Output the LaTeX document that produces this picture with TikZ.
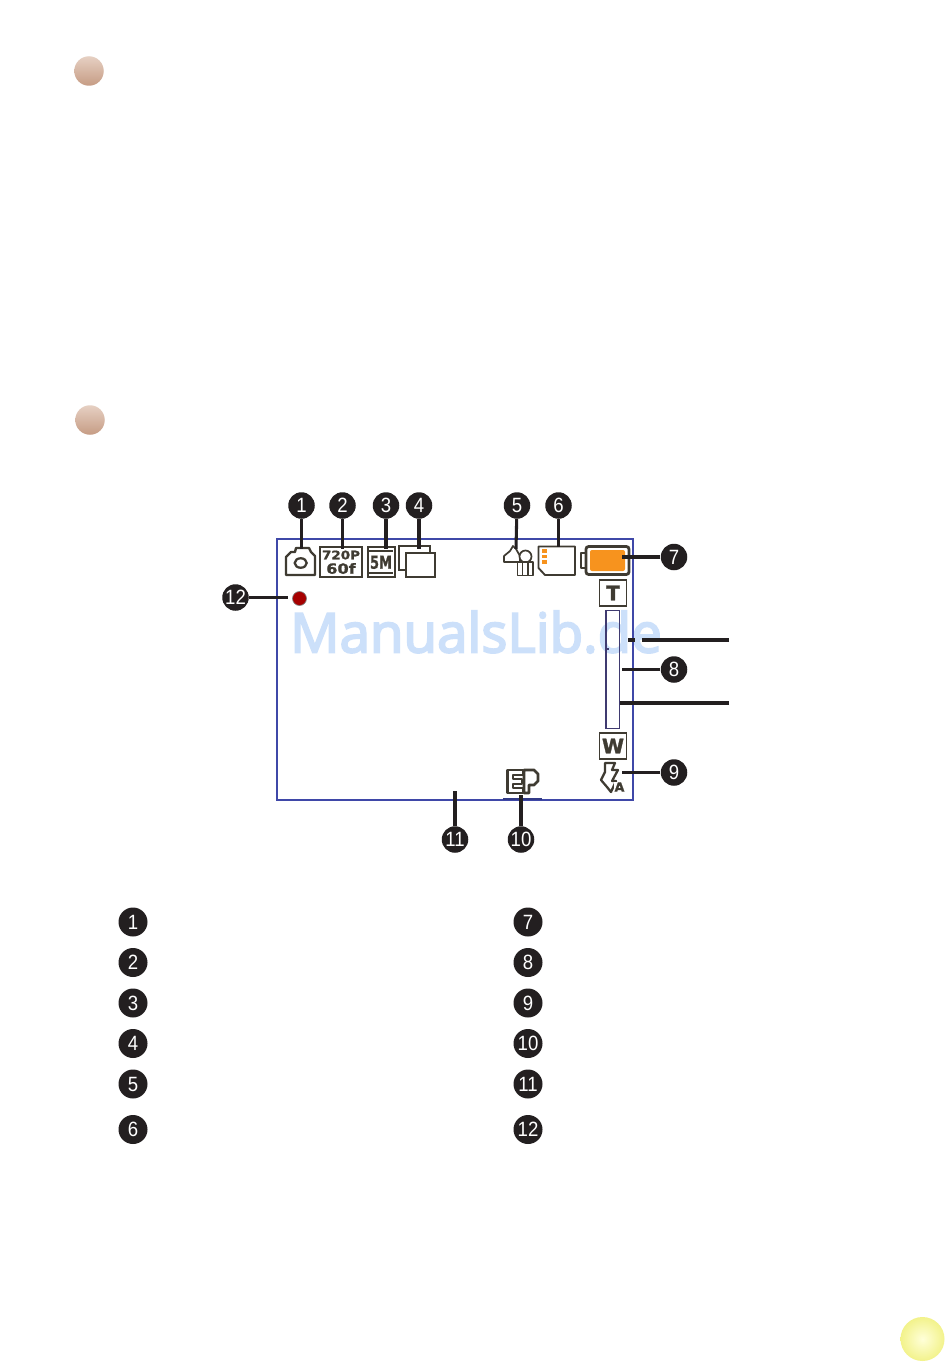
\documentclass[tikz,border=0pt]{standalone}
\usepackage{fontspec}
\setmainfont{Liberation Sans}
\newfontfamily\wmfont[FakeBold=3.5]{Open Sans}
\newfontfamily\iconfont{DejaVu Sans}
\newfontfamily\widefont[FakeStretch=1.15,FakeBold=1.2]{DejaVu Sans Bold}
\newfontfamily\narrowfont[FakeStretch=0.72,FakeBold=0.6]{DejaVu Sans Bold}
\newfontfamily\numfont[FakeStretch=0.9]{Liberation Sans}
\newfontfamily\heavyfont[FakeBold=1.5]{DejaVu Sans Bold}
\usetikzlibrary{shapes.geometric}
\definecolor{ink}{HTML}{231F20}
\definecolor{icon}{HTML}{3F3B32}
\definecolor{frameblue}{HTML}{3F48A8}
\definecolor{barpurple}{HTML}{3F3A70}
\definecolor{orangefill}{HTML}{F7931E}
\definecolor{wm}{HTML}{CCE0FA}
\definecolor{pinkA}{RGB}{230,208,195}
\definecolor{pinkB}{RGB}{226,200,184}
\definecolor{pinkC}{RGB}{198,156,132}
\tikzset{
  num/.style={circle,fill=ink,text=white,minimum size=26.5*0.75pt,inner sep=0pt,font=\numfont\fontsize{15.5}{16}\selectfont},
  numbig/.style={num,minimum size=29*0.75pt},
  lead/.style={draw=ink,line width=2.3pt},
  ico/.style={draw=icon,line width=1.8pt,line join=round,fill=white},
  dotpink/.style={circle,minimum size=29.5*0.75pt,inner sep=0pt,left color=pinkA,middle color=pinkB,right color=pinkC,shading angle=0},
  zoomkey/.style={draw=icon,line width=1.1pt,fill=white,minimum width=27*0.75pt,minimum height=26*0.75pt,inner sep=0pt,text=icon,font=\heavyfont\fontsize{15}{15}\selectfont},
}
\begin{document}
\begin{tikzpicture}[x=0.75pt,y=-0.75pt]
\useasboundingbox (0,0) rectangle (950,1370);
\fill[white] (0,0) rectangle (950,1370);
% decorative dots
\node[dotpink] (dotA) at (89,71) {};
\node[dotpink] (dotB) at (90,420) {};
\node[circle,minimum size=44*0.75pt,inner sep=0pt,inner color=white!85!yellow,outer color=yellow!45!white!90!gray] (dotC) at (922.5,1339) {};
% watermark
\node[text=wm,font=\wmfont\fontsize{41}{43}\selectfont,inner sep=0pt] (wmark) at (476,632) {ManualsLib.de};
% screen frame
\node[draw=frameblue,line width=2.2pt,minimum width=356*0.75pt,minimum height=261*0.75pt,inner sep=0pt] (frame) at (455,669.5) {};
\draw[frameblue!80!black,line width=2.2pt] (503,799) -- (542,799);
% camera
\draw[ico] (286,575) -- (286,557) -- (291,552) -- (295,552) -- (296,548) -- (309,548) -- (311,552) -- (315,556) -- (315,575) -- cycle;
\node[draw=icon,line width=1.7pt,ellipse,minimum width=12*0.75pt,minimum height=9.5*0.75pt,inner sep=0pt] (lens) at (300.7,563) {};
% 720P
\node[draw=icon,line width=1.5pt,fill=white,minimum width=42*0.75pt,minimum height=30*0.75pt,inner sep=0pt] (res) at (340.5,561.5) {};
\node[text=icon,font=\widefont\fontsize{8.8}{10}\selectfont,inner sep=0pt] (resA) at (341,555) {720P};
\node[text=icon,font=\widefont\fontsize{10.5}{10}\selectfont,inner sep=0pt] (resB) at (341,568.5) {60f};
% 5M
\node[draw=icon,line width=1.5pt,fill=white,minimum width=27*0.75pt,minimum height=30*0.75pt,inner sep=0pt] (mp) at (381,561.5) {};
\draw[icon,line width=1pt] (369,551) -- (393,551) (369,573) -- (393,573);
\node[text=icon,font=\narrowfont\fontsize{13.5}{13}\selectfont,inner sep=0pt] (mpt) at (381,562.3) {5M};
% frames icon
\node[draw=icon,fill=white,line width=1.5pt,minimum width=31*0.75pt,minimum height=24*0.75pt,inner sep=0pt] (back) at (414,558) {};
\node[draw=icon,fill=white,line width=1.5pt,minimum width=29*0.75pt,minimum height=24*0.75pt,inner sep=0pt] (front) at (420.5,565) {};
% mountain + person
\draw[ico,line width=1.3pt] (504,562) -- (504,556) -- (510,551) -- (513,546) -- (516,549) -- (520,556) -- (520,562) -- cycle;
\node[draw=icon,fill=white,line width=1.3pt,circle,minimum size=12*0.75pt,inner sep=0pt] (head) at (525.5,556.5) {};
\draw[ico,line width=1.3pt] (517.5,575.5) rectangle (533,562);
\draw[icon,line width=1pt] (522.5,562) -- (522.5,575.5) (528,562) -- (528,575.5);
% card
\draw[ico,line width=1.4pt] (538.5,546.5) -- (575,546.5) -- (575,575) -- (545,575) -- (538.5,568) -- cycle;
\foreach \cy in {551,556.5,562}{\fill[orangefill] (541.5,\cy-1.8) rectangle (547,\cy+1.8);}
% battery
\draw[ico,line width=2.1pt] (585,553) -- (581,553) -- (581,568) -- (585,568);
\draw[draw=icon,line width=2.1pt,fill=white,rounded corners=2pt] (586,546.5) rectangle (629,574.5);
\fill[orangefill,rounded corners=1.5pt] (590,550) rectangle (625,571);
% T, W, slider
\node[zoomkey] (tele) at (613,593) {T};
\node[zoomkey] (wide) at (613,746) {W};
\draw[draw=barpurple,line width=0.9pt] (606,610.5) rectangle (619.5,728.5);
\draw[draw=barpurple,line width=0.8pt] (606,649) -- (609,649);
% flash
\draw[ico,line width=1.7pt] (605,763) -- (615,763) -- (612,770) -- (618,770) -- (612,781) -- (616,781) -- (611,792) -- (607,787) -- (601,780) -- (605,772) -- cycle;
\node[text=icon,fill=white,inner sep=0.5pt,font=\heavyfont\fontsize{9.5}{9}\selectfont] (flashA) at (619.5,787) {A};
% EP
\draw[ico,line width=2.1pt] (507.5,770) -- (523,770) -- (523,775) -- (513,775) -- (513,779) -- (522,779) -- (522,784) -- (513,784) -- (513,788) -- (523,788) -- (523,793) -- (507.5,793) -- cycle;
\draw[ico,line width=2.1pt] (524,770) -- (534,770) -- (538,774) -- (538,781) -- (534,785) -- (529,785) -- (529,793) -- (524,793) -- cycle;
% red dot
\node[circle,fill=red!65!black,draw=gray,line width=0.5pt,minimum size=14*0.75pt,inner sep=0pt] (rec) at (299.5,598.5) {};
% callout numbers
\node[num] (n1) at (301.5,505.5) {1};
\node[num] (n2) at (342.5,505.5) {2};
\node[num] (n3) at (386,505.5) {3};
\node[num] (n4) at (419,505.5) {4};
\node[num] (n5) at (517,505.5) {5};
\node[num] (n6) at (558.5,505.5) {6};
\node[num] (n7) at (674,557) {7};
\node[num] (n8) at (674,669.5) {8};
\node[num] (n9) at (674,772.5) {9};
\node[num] (n10) at (521,839.5) {10};
\node[num] (n11) at (455,839.5) {11};
\node[num] (n12) at (235.5,597.5) {12};
\coordinate (e1) at (301.5,549);
\coordinate (e2) at (342.5,549);
\coordinate (e3) at (386,549);
\coordinate (e4) at (419,549);
\coordinate (e5) at (516,549);
\coordinate (e6) at (558.5,547);
\coordinate (e7) at (622,557);
\coordinate (e8) at (622,669.5);
\coordinate (e9) at (622,772.5);
\coordinate (e10) at (521,795);
\coordinate (e11) at (455,791);
\coordinate (e12) at (288,597.5);
\foreach \i in {1,...,12}{\draw[lead] (n\i) -- (e\i);}
% brackets of the zoom bar
\coordinate (b1a) at (729,640); \coordinate (b1b) at (642,640);
\coordinate (b1c) at (634.5,640); \coordinate (b1d) at (628,640);
\coordinate (b2a) at (729,703); \coordinate (b2b) at (619.5,703);
\draw[lead] (b1a) -- (b1b);
\draw[lead] (b1c) -- (b1d);
\draw[lead] (b2a) -- (b2b);
% legend
\node[numbig] (k1) at (133,922) {1};
\node[numbig] (k2) at (133,962.5) {2};
\node[numbig] (k3) at (133,1003) {3};
\node[numbig] (k4) at (133,1043.5) {4};
\node[numbig] (k5) at (133,1084) {5};
\node[numbig] (k6) at (133,1129.5) {6};
\node[numbig] (k7) at (528,922) {7};
\node[numbig] (k8) at (528,962.5) {8};
\node[numbig] (k9) at (528,1003) {9};
\node[numbig] (k10) at (528,1043.5) {10};
\node[numbig] (k11) at (528,1084) {11};
\node[numbig] (k12) at (528,1129.5) {12};
\end{tikzpicture}
\end{document}
